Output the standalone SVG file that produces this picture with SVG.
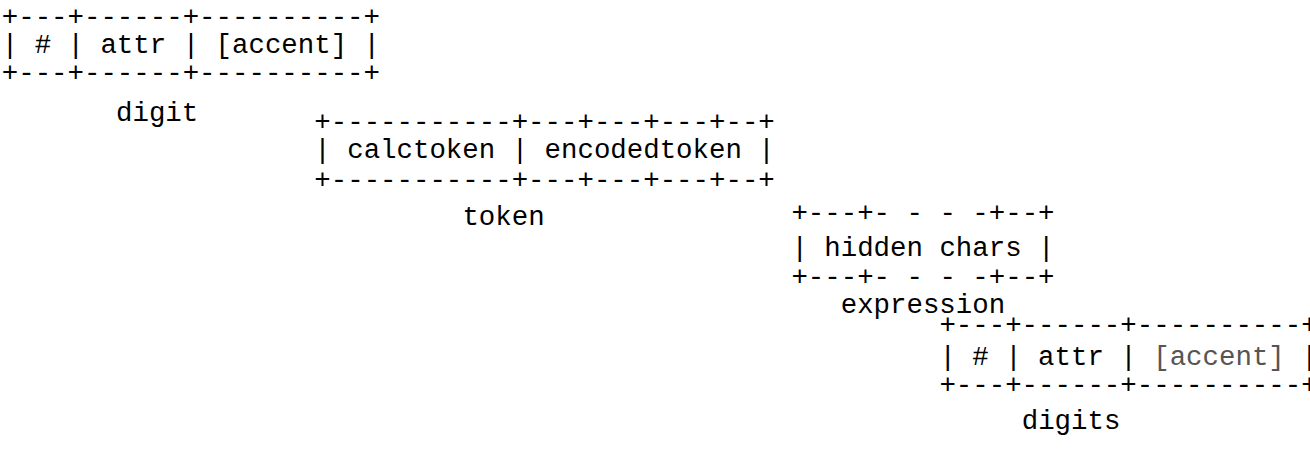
<svg xmlns="http://www.w3.org/2000/svg" width="1310" height="453" viewBox="0 0 1310 453">
<style>
text{font-family:"Liberation Mono","DejaVu Sans Mono",monospace;font-size:27.42px;fill:#000;white-space:pre}
.dim{fill:#555}
</style>
<rect width="1310" height="453" fill="#fff"/>
<g id="connectors"/>
<g id="digit">
<text x="1.75" y="25">+---+------+----------+</text>
<text x="1.75" y="53">| # | attr | [accent] |</text>
<text x="1.75" y="81">+---+------+----------+</text>
<text x="116" y="121">digit</text>
</g>
<g id="token">
<text x="314.3" y="130">+-----------+---+---+---+--+</text>
<text x="314.3" y="158">| calctoken | encodedtoken |</text>
<text x="314.3" y="188">+-----------+---+---+---+--+</text>
<text x="462.4" y="225">token</text>
</g>
<g id="expression">
<text x="791.4" y="221">+---+- - - -+--+</text>
<text x="791.4" y="256">| hidden chars |</text>
<text x="791.4" y="285">+---+- - - -+--+</text>
<text x="840.7" y="313">expression</text>
</g>
<g id="digits">
<text x="939.4" y="333">+---+------+----------+</text>
<text x="939.4" y="365">| # | attr | <tspan class="dim">[accent]</tspan> |</text>
<text x="939.4" y="393">+---+------+----------+</text>
<text x="1021.7" y="429">digits</text>
</g>
</svg>
